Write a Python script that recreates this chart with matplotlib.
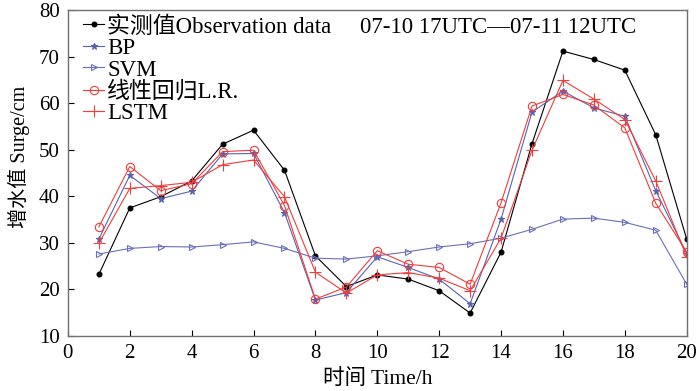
"""Storm surge forecast comparison, 07-10 17UTC to 07-11 12UTC."""

import matplotlib

matplotlib.use("Agg")
import matplotlib.pyplot as plt

HOURS = list(range(1, 21))
OBS = [23.2, 37.5, 39.9, 43.3, 51.2, 54.2, 45.6, 27.2, 20.6, 23.1,
       22.2, 19.7, 14.9, 28.0, 51.3, 71.2, 69.4, 67.1, 53.2, 30.8]
BP = [30.8, 44.5, 39.5, 41.1, 49.1, 49.2, 36.5, 17.7, 19.3, 27.0,
      24.7, 22.2, 16.9, 35.1, 58.1, 62.6, 59.0, 57.2, 41.2, 27.7]
SVM = [27.6, 28.8, 29.2, 29.1, 29.6, 30.2, 28.8, 26.7, 26.5, 27.2,
       28.1, 29.1, 29.8, 31.0, 32.9, 35.1, 35.3, 34.4, 32.7, 21.1]
LR = [33.4, 46.4, 41.2, 42.7, 49.6, 49.9, 38.0, 17.9, 20.5, 28.3,
      25.4, 24.7, 21.1, 38.6, 59.4, 61.9, 59.6, 54.7, 38.5, 28.0]
LSTM = [29.9, 41.7, 42.3, 43.0, 46.8, 47.8, 39.9, 23.7, 19.2, 23.1,
        23.6, 22.4, 19.7, 31.0, 49.9, 64.9, 60.9, 56.5, 43.3, 27.0]

LABELS = [
    "实测值Observation data     07-10 17UTC\u201407-11 12UTC",
    "BP",
    "SVM",
    "线性回归L.R.",
    "LSTM",
]

plt.rcParams["font.family"] = ["Liberation Serif", "Noto Sans CJK SC", "DejaVu Sans"]
plt.rcParams["font.size"] = 15

fig = plt.figure(figsize=(7.0, 3.91), dpi=100)
ax = fig.add_axes([0.097, 0.141, 0.884, 0.833])

series = [OBS, BP, SVM, LR, LSTM]
styles = [
    dict(color="black", marker="o", markersize=3.5, mfc="black"),
    dict(color="#5a62b0", marker="*", markersize=4.5, mfc="#5a62b0"),
    dict(color="#6a70b8", marker=">", markersize=5, mfc="none"),
    dict(color="#f03c3c", marker="o", markersize=6, mfc="none"),
    dict(color="#f03c3c", marker="+", markersize=8, mfc="none"),
]
for values, label, st in zip(series, LABELS, styles):
    ax.plot(HOURS, values, label=label, linewidth=0.8, markeredgewidth=0.8, **st)

ax.set_xlim(0, 20)
ax.set_ylim(10, 80)
ax.set_xticks(range(0, 21, 2))
ax.set_yticks(range(10, 81, 10))
ax.tick_params(direction="in", length=4, width=0.8, labelsize=15, pad=6)
for sp in ax.spines.values():
    sp.set_color("#707070")
    sp.set_linewidth(1.0)

ax.set_xlabel("时间 Time/h", fontsize=15.5, labelpad=4)
ax.set_ylabel("增水值 Surge/cm", fontsize=14.5)
ax.yaxis.set_label_coords(-0.061, 0.55)

ax.legend(loc="upper left", frameon=False, fontsize=16.5, handlelength=0.95,
          handletextpad=0.12, labelspacing=0.02, borderaxespad=0.0,
          bbox_to_anchor=(0.009, 1.01))

fig.savefig("out.png", dpi=100)
